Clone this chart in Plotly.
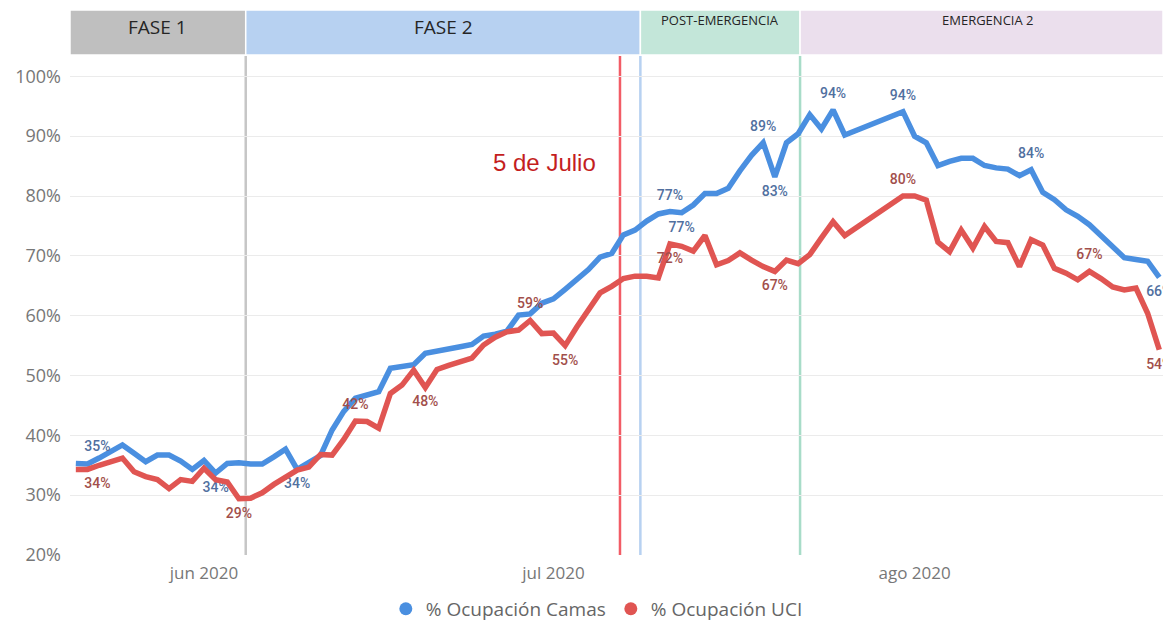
import plotly.graph_objects as go
import pandas as pd

# ---------------- data ----------------
dates = pd.date_range("2020-05-21", "2020-08-22", freq="D")

camas = [
    35.3, 35.2, 36.2, 37.3, 38.4, 37.0, 35.6, 36.7, 36.7, 35.7, 34.3,          # May 21-31
    35.8, 33.7, 35.3, 35.4, 35.2, 35.2, 36.4, 37.7, 34.3, 35.4,                # Jun 1-10
    36.6, 40.9, 44.0, 46.2, 46.8, 47.3, 51.2, 51.5, 51.8, 53.7,                # Jun 11-20
    54.0, 54.4, 54.8, 55.2, 56.6, 56.9, 57.4, 60.1, 60.3, 62.1,                # Jun 21-30
    62.8, 64.4, 66.0, 67.7, 69.8, 70.4, 73.5, 74.3, 75.8, 77.0,                # Jul 1-10
    77.4, 77.2, 78.5, 80.4, 80.4, 81.3, 84.2, 86.8, 88.9, 83.2,                # Jul 11-20
    88.9, 90.4, 93.6, 91.2, 94.4, 90.2, None, None, None, None,                # Jul 21-30
    94.1, 90.0, 88.9, 85.1, 85.8, 86.3, 86.3, 85.1, 84.7, 84.5,                # Jul 31-Aug 9
    83.4, 84.4, 80.6, 79.4, 77.7, 76.6, 75.2, 73.3, 71.3, 69.7,                # Aug 10-19
    69.4, 69.1, 66.4,                                                          # Aug 20-22
]
uci = [
    34.3, 34.3, 35.0, 35.6, 36.2, 33.9, 33.1, 32.6, 31.1, 32.6, 32.3,
    34.5, 32.6, 32.2, 29.4, 29.5, 30.4, 31.8, 33.1, 34.2, 34.7,
    36.8, 36.7, 39.3, 42.4, 42.3, 41.2, 47.0, 48.4, 50.9, 48.0,
    51.0, 51.7, 52.3, 52.9, 55.1, 56.4, 57.3, 57.6, 59.2, 57.0,
    57.1, 55.0, 58.1, 61.0, 63.8, 64.9, 66.2, 66.6, 66.6, 66.3,
    72.0, 71.6, 70.8, 73.4, 68.5, 69.2, 70.5, 69.3, 68.2, 67.4,
    69.3, 68.7, 70.2, 73.0, 75.7, 73.4, None, None, None, None,
    80.0, 80.0, 79.3, 72.3, 70.7, 74.3, 71.3, 74.9, 72.4, 72.2,
    68.2, 72.7, 71.8, 67.9, 67.1, 66.0, 67.4, 66.2, 64.8, 64.3,
    64.6, 60.4, 54.3,
]

series_names = ["% Ocupación Camas", "% Ocupación UCI"]

# which points carry a data label, and on which side
camas_label_idx = {0: "top right", 12: "bottom center", 19: "bottom center", 51: "top center",
                   52: "bottom center", 59: "top center", 60: "bottom center", 65: "top center",
                   71: "top center", 82: "top center", 93: "bottom center"}
uci_label_idx = {0: "bottom right", 14: "bottom center", 24: "top center", 30: "bottom center",
                 39: "top center", 42: "bottom center", 51: "bottom center", 60: "bottom center",
                 71: "top center", 87: "top center", 93: "bottom center"}

month_ticks = ["2020-06-01", "2020-07-01", "2020-08-01"]
month_labels = ["jun 2020", "jul 2020", "ago 2020"]

y_ticks = [20, 30, 40, 50, 60, 70, 80, 90, 100]

range_start = "2020-05-20 12:00"
range_end = "2020-08-22 07:40"
phase_names = ["FASE 1", "FASE 2", "POST-EMERGENCIA", "EMERGENCIA 2"]
phase_bounds = [range_start, "2020-06-04 14:00", "2020-07-08 11:00", "2020-07-22 04:00", range_end]
marker_date = "2020-07-06 17:00"
marker_text = "5 de Julio"

# ---------------- style ----------------
BLUE = "#4A8FE0"
RED = "#E05552"
BLUE_LBL = "#51709F"
RED_LBL = "#A24F4B"
phase_fill = ["#BFBFBF", "#B7D1F1", "#C3E6D9", "#EBDFED"]
phase_line = ["#C6C6C6", "#B7D1F1", "#A8DCC8", None]
phase_font = [19, 19, 13, 13]
phase_y = [1.058, 1.058, 1.072, 1.072]


def labels(values, idx):
    text, pos = [], []
    for i, v in enumerate(values):
        if i in idx and v is not None:
            text.append(f"{round(v)}%")
            pos.append(idx[i])
        else:
            text.append("")
            pos.append("top center")
    return text, pos


fig = go.Figure()

for vals, idx, col, lcol, nm in [(camas, camas_label_idx, BLUE, BLUE_LBL, series_names[0]),
                                 (uci, uci_label_idx, RED, RED_LBL, series_names[1])]:
    t, p = labels(vals, idx)
    fig.add_trace(go.Scatter(
        x=dates, y=vals, mode="lines+markers+text", name=nm, showlegend=False,
        line=dict(color=col, width=5.5, shape="linear"),
        marker=dict(size=12, color="rgba(0,0,0,0)", line=dict(width=0)),
        connectgaps=True, text=t, textposition=p, cliponaxis=False,
        textfont=dict(family="Roboto", size=14, color=lcol, weight=500),
        hoverinfo="skip",
    ))

# legend entries (dots)
for nm, col in zip(series_names, [BLUE, RED]):
    fig.add_trace(go.Scatter(x=[None], y=[None], mode="markers", name=nm,
                             marker=dict(size=13, color=col, symbol="circle")))

shapes = []
annotations = []
# phase header bands
for i, nm in enumerate(phase_names):
    x0, x1 = phase_bounds[i], phase_bounds[i + 1]
    shapes.append(dict(type="rect", xref="x", yref="paper", x0=x0, x1=x1, y0=1.002, y1=1.092,
                       fillcolor=phase_fill[i], line=dict(color="white", width=1.5), layer="above"))
    mid = pd.Timestamp(x0) + (pd.Timestamp(x1) - pd.Timestamp(x0)) / 2
    annotations.append(dict(x=mid, y=phase_y[i], xref="x", yref="paper", text=nm, showarrow=False,
                            xshift=6 if i == 3 else 0, yanchor="middle", xanchor="center",
                            font=dict(family="Open Sans", size=phase_font[i], color="#252525")))
# phase separators
for i in range(1, 4):
    shapes.append(dict(type="line", xref="x", yref="paper", x0=phase_bounds[i], x1=phase_bounds[i],
                       y0=0, y1=1, line=dict(color=phase_line[i - 1], width=2.5), layer="below"))
# reference date line
shapes.append(dict(type="line", xref="x", yref="paper", x0=marker_date, x1=marker_date, y0=0, y1=1,
                   line=dict(color="#F25C66", width=2.5), layer="below"))
annotations.append(dict(x=marker_date, y=0.786, xref="x", yref="paper", text=marker_text,
                        showarrow=False, xanchor="right", yanchor="middle", xshift=-22,
                        font=dict(family="Liberation Sans", size=24, color="#C41E1E")))

fig.update_layout(
    width=1163, height=620,
    margin=dict(l=70, r=0, t=56, b=65, autoexpand=False),
    paper_bgcolor="white", plot_bgcolor="white",
    shapes=shapes, annotations=annotations,
    showlegend=True,
    legend=dict(orientation="h", x=0.482, xanchor="center", y=-0.108, yanchor="middle",
                font=dict(family="Open Sans", size=19, color="#666666"),
                itemwidth=30, tracegroupgap=0, bgcolor="rgba(0,0,0,0)"),
    xaxis=dict(range=[range_start, range_end], tickvals=month_ticks, ticktext=month_labels,
               showgrid=False, zeroline=False, showline=False, ticks="", automargin=False,
               tickfont=dict(family="Open Sans", size=17, color="#777777"), ticklabelstandoff=6),
    yaxis=dict(range=[20, 103.4], tickvals=y_ticks, ticktext=[f"{v}%" for v in y_ticks],
               showgrid=True, gridcolor="#EBEBEB", gridwidth=1, zeroline=False, showline=False,
               ticks="", automargin=False, tickfont=dict(family="Open Sans", size=18, color="#777777"),
               ticklabelstandoff=8),
    hovermode=False,
)

fig.write_html("out.html", config={"displayModeBar": False},
               post_script="document.body.style.margin='0';document.body.style.overflow='hidden';")
